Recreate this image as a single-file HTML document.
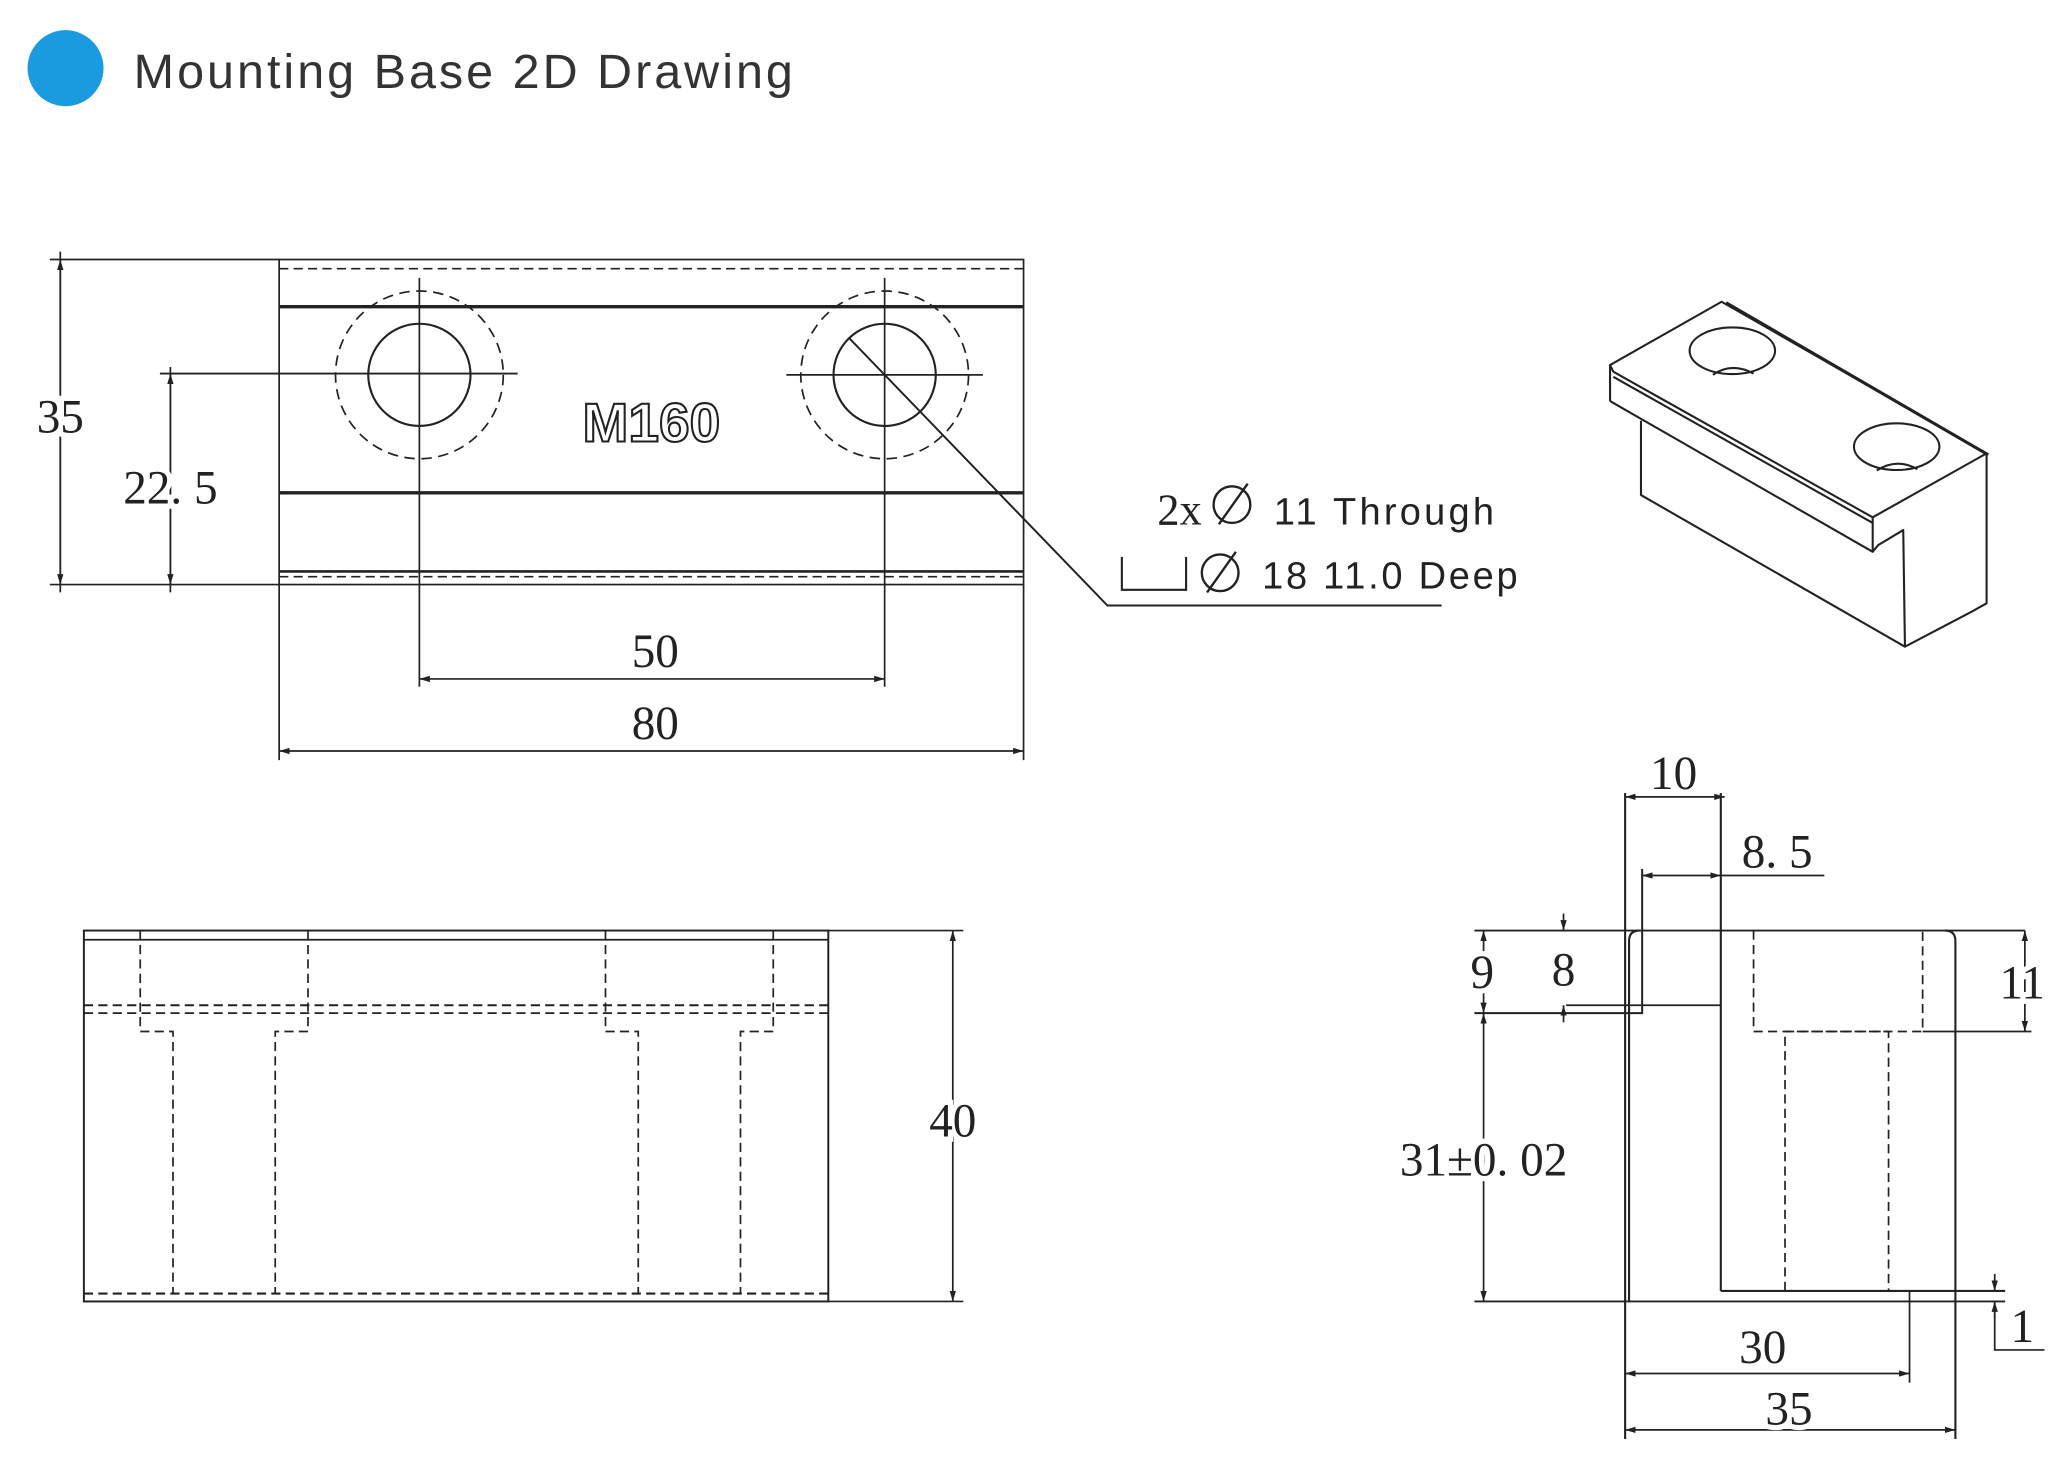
<!DOCTYPE html>
<html><head><meta charset="utf-8"><style>
html,body{margin:0;padding:0;background:#fff;}
svg{display:block;}
.t{font-family:"Liberation Sans","Noto Sans CJK SC",sans-serif;}
.d{font-family:"Liberation Serif","Noto Serif CJK SC",serif;fill:#222;}
.d text{stroke:#fff;stroke-width:8px;paint-order:stroke;}
</style></head><body>
<svg width="2055" height="1464" viewBox="0 0 1568 1117" xmlns="http://www.w3.org/2000/svg">
<defs>
<marker id="a" viewBox="0 0 10 10" refX="10" refY="5" markerWidth="8" markerHeight="8" orient="auto-start-reverse" markerUnits="userSpaceOnUse"><path d="M0,2 L10,5 L0,8 z" fill="#222"/></marker>
</defs>
<rect width="1568" height="1117" fill="#fff"/>
<circle cx="50" cy="52" r="29" fill="#1a9be0"/>
<text class="t" x="102" y="67" font-size="37" fill="#333" textLength="503" lengthAdjust="spacing">Mounting Base 2D Drawing</text>

<g stroke="#222" fill="none" stroke-width="1.3">
<!-- TOP VIEW -->
<rect x="213" y="198" width="568" height="248"/>
<line x1="213" y1="205" x2="781" y2="205" stroke-dasharray="7,4"/>
<line x1="213" y1="234" x2="781" y2="234" stroke-width="2.6"/>
<line x1="213" y1="376" x2="781" y2="376" stroke-width="2.6"/>
<line x1="213" y1="436" x2="781" y2="436" stroke-width="2"/>
<line x1="213" y1="440" x2="781" y2="440" stroke-dasharray="7,4"/>
<circle cx="320" cy="286" r="39" stroke-width="1.6"/>
<circle cx="320" cy="286" r="64" stroke-dasharray="8,5"/>
<circle cx="675" cy="286" r="39" stroke-width="1.6"/>
<circle cx="675" cy="286" r="64" stroke-dasharray="8,5"/>
<line x1="320" y1="212" x2="320" y2="524"/>
<line x1="675" y1="212" x2="675" y2="524"/>
<line x1="600" y1="286" x2="750" y2="286"/>
<line x1="122" y1="285" x2="395" y2="285" stroke-width="1.5"/>
<line x1="38" y1="198" x2="213" y2="198"/>
<line x1="38" y1="446" x2="213" y2="446"/>
<line x1="46" y1="192" x2="46" y2="452"/>
<line x1="46" y1="198" x2="46" y2="446" marker-start="url(#a)" marker-end="url(#a)"/>
<line x1="130" y1="280" x2="130" y2="452"/>
<line x1="130" y1="285" x2="130" y2="446" marker-start="url(#a)" marker-end="url(#a)"/>
<line x1="320" y1="518" x2="675" y2="518" marker-start="url(#a)" marker-end="url(#a)"/>
<line x1="213" y1="446" x2="213" y2="580"/>
<line x1="781" y1="446" x2="781" y2="580"/>
<line x1="213" y1="573" x2="781" y2="573" marker-start="url(#a)" marker-end="url(#a)"/>
<polyline points="648,258 845,462 1100,462" stroke-width="1.5"/>
<polyline points="856,425 856,450 905,450 905,425" stroke-width="1.6"/>
<circle cx="931" cy="437" r="14" stroke-width="1.8"/>
<line x1="921" y1="452" x2="943" y2="421" stroke-width="1.8"/>
<circle cx="940" cy="385" r="14" stroke-width="1.8"/>
<line x1="930" y1="400" x2="952" y2="369" stroke-width="1.8"/>

<!-- FRONT VIEW -->
<rect x="64" y="710" width="568" height="283" stroke-width="1.5"/>
<line x1="64" y1="717" x2="632" y2="717"/>
<line x1="64" y1="767" x2="632" y2="767" stroke-dasharray="7,4" stroke-width="1.6"/>
<line x1="64" y1="773" x2="632" y2="773" stroke-dasharray="7,4"/>
<line x1="64" y1="987" x2="632" y2="987" stroke-dasharray="7,4" stroke-width="1.6"/>
<polyline points="107,710 107,787 132,787 132,987" stroke-dasharray="7,4"/>
<polyline points="235,710 235,787 210,787 210,987" stroke-dasharray="7,4"/>
<polyline points="462,710 462,787 487,787 487,987" stroke-dasharray="7,4"/>
<polyline points="590,710 590,787 565,787 565,987" stroke-dasharray="7,4"/>
<line x1="632" y1="710" x2="735" y2="710"/>
<line x1="632" y1="993" x2="735" y2="993"/>
<line x1="727" y1="710" x2="727" y2="993" marker-start="url(#a)" marker-end="url(#a)"/>

<!-- SIDE VIEW -->
<line x1="1125" y1="710" x2="1545" y2="710" stroke-width="1.5"/>
<path d="M1240,605 V1098 M1243,993 V718 Q1243,710 1251,710 M1484,710 Q1492,710 1492,718 V1098" stroke-width="1.6"/>
<line x1="1313" y1="605" x2="1313" y2="985" stroke-width="1.6"/>
<line x1="1313" y1="985" x2="1530" y2="985" stroke-width="1.6"/>
<line x1="1125" y1="993" x2="1530" y2="993" stroke-width="1.5"/>
<line x1="1195" y1="767" x2="1313" y2="767"/>
<polyline points="1125,773 1253,773 1253,663" stroke-width="1.5"/>
<polyline points="1338,710 1338,787 1467,787 1467,710" stroke-dasharray="7,4"/>
<line x1="1467" y1="787" x2="1550" y2="787"/>
<polyline points="1362,985 1362,787 1441,787 1441,985" stroke-dasharray="7,4"/>
<line x1="1240" y1="608" x2="1316" y2="608" marker-start="url(#a)" marker-end="url(#a)"/>
<line x1="1253" y1="668" x2="1313" y2="668" marker-start="url(#a)" marker-end="url(#a)"/>
<line x1="1313" y1="668" x2="1392" y2="668"/>
<line x1="1132" y1="710" x2="1132" y2="773" marker-start="url(#a)" marker-end="url(#a)"/>
<line x1="1193" y1="697" x2="1193" y2="710" marker-end="url(#a)"/>
<line x1="1193" y1="780" x2="1193" y2="767" marker-end="url(#a)"/>
<line x1="1545" y1="710" x2="1545" y2="787" marker-start="url(#a)" marker-end="url(#a)"/>
<line x1="1132" y1="773" x2="1132" y2="993" marker-start="url(#a)" marker-end="url(#a)"/>
<line x1="1522" y1="972" x2="1522" y2="985" marker-end="url(#a)"/>
<polyline points="1522,1006 1522,993" marker-end="url(#a)"/>
<polyline points="1522,993 1522,1030 1560,1030"/>
<line x1="1457" y1="985" x2="1457" y2="1055"/>
<line x1="1240" y1="1048" x2="1457" y2="1048" marker-start="url(#a)" marker-end="url(#a)"/>
<line x1="1240" y1="1091" x2="1492" y2="1091" marker-start="url(#a)" marker-end="url(#a)"/>

<!-- ISO VIEW -->
<g stroke-width="1.6" stroke-linejoin="round">
<polyline points="1228.5,306 1228.5,278.5 1313.6,230.2 1515.8,345.9 1515.8,460.3 1504.4,466.7 1453.5,493.4"/>
<polyline points="1515.8,345.9 1428.9,394.7 1428.9,421 1433.2,415.8 1452.2,404.4 1453.5,493.4 1252.1,377.7 1252.1,321"/>
<polyline points="1228.5,278.5 1231,283.6 1428.9,394.7"/>
<polyline points="1228.5,306 1428.9,421"/>
<line x1="1231" y1="287.5" x2="1428.9" y2="399"/>
<line x1="1317" y1="231" x2="1517" y2="347" stroke-width="2.4"/>
<ellipse cx="1321.8" cy="267.6" rx="32.6" ry="17.8"/>
<path d="M1307,286 Q1321,276 1338,285"/>
<ellipse cx="1447.2" cy="340.8" rx="32.6" ry="17.8"/>
<path d="M1432,359 Q1447,349 1463,358"/>
</g>
</g>

<!-- M160 -->
<text class="t" x="497" y="337" font-size="42" font-weight="bold" text-anchor="middle" fill="#fff" stroke="#222" stroke-width="1.6">M160</text>

<!-- dimension text -->
<g class="d" font-size="36" text-anchor="middle">
<text x="46" y="330">35</text>
<text x="130" y="384">22. 5</text>
<text x="500" y="509">50</text>
<text x="500" y="564">80</text>
<text x="727" y="867">40</text>
<text x="1277" y="602">10</text>
<text x="1356" y="662">8. 5</text>
<text x="1131" y="754">9</text>
<text x="1193" y="752">8</text>
<text x="1543" y="762">11</text>
<text x="1132" y="897">31±0. 02</text>
<text x="1543" y="1024">1</text>
<text x="1345" y="1040">30</text>
<text x="1365" y="1087">35</text>
<text x="900" y="400" font-size="34">2x</text>
</g>
<g class="t" font-size="29" fill="#222">
<text x="972" y="400" textLength="168" lengthAdjust="spacing">11 Through</text>
<text x="963" y="449" textLength="195" lengthAdjust="spacing">18 11.0 Deep</text>
</g>
</svg>
</body></html>
